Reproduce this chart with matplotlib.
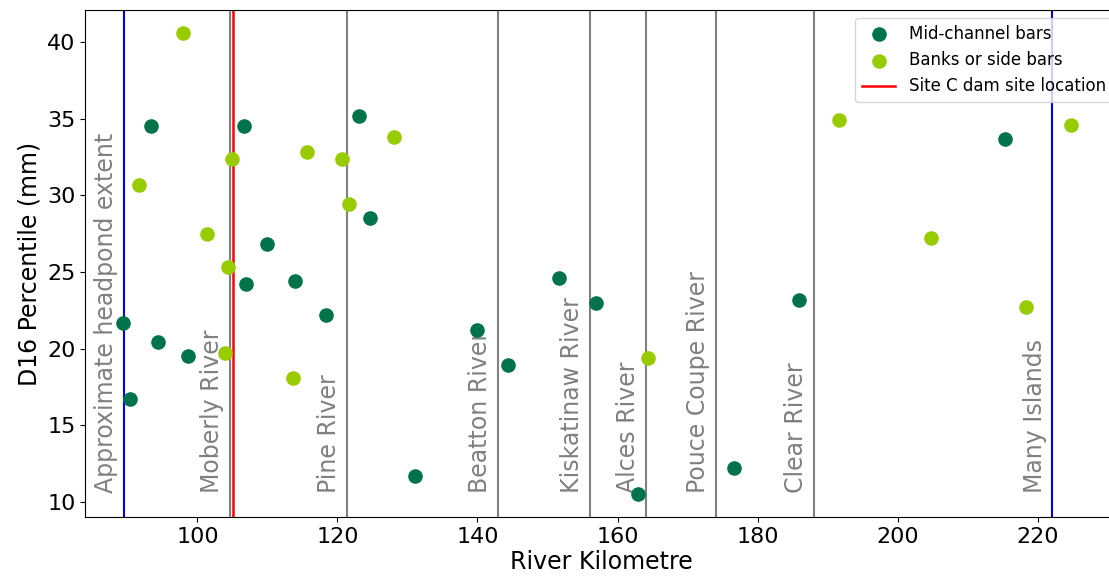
import matplotlib
matplotlib.use('Agg')
import matplotlib.pyplot as plt

# mid-channel bars (river km, D16 in mm)
mid_km = [89.4, 90.3, 93.4, 94.3, 98.6, 106.6, 107.0, 110.0, 114.0, 118.4,
          123.1, 124.7, 131.1, 139.9, 144.3, 151.7, 156.9, 162.9, 176.6, 185.9, 215.4]
mid_d16 = [21.7, 16.7, 34.5, 20.4, 19.5, 34.5, 24.2, 26.8, 24.4, 22.2,
           35.2, 28.5, 11.7, 21.2, 18.9, 24.6, 23.0, 10.5, 12.2, 23.2, 33.7]

# banks or side bars
bank_km = [91.7, 97.9, 101.4, 103.9, 104.3, 104.9, 113.6, 115.6, 120.6, 121.6,
           128.1, 164.4, 191.6, 204.7, 218.4, 224.7]
bank_d16 = [30.7, 40.6, 27.5, 19.7, 25.3, 32.4, 18.1, 32.8, 32.4, 29.4,
            33.8, 19.4, 34.9, 27.2, 22.7, 34.6]

# tributaries / landmarks along the river
trib_names = ['Moberly River', 'Pine River', 'Beatton River', 'Kiskatinaw River',
              'Alces River', 'Pouce Coupe River', 'Clear River']
trib_km = [104.6, 121.3, 142.9, 156.0, 164.0, 174.0, 188.0]
extent_names = ['Approximate headpond extent', 'Many Islands']
extent_km = [89.5, 222.1]
dam_km = 105.1

fig = plt.figure(figsize=(11.09, 5.76), dpi=100)
ax = fig.add_axes([0.077, 0.102, 0.93, 0.881])

for name, km in zip(trib_names, trib_km):
    ax.axvline(km, color='grey', linewidth=1.5)
    ax.text(km - 0.8, 10.6, name, rotation=90, ha='right', va='bottom',
            fontsize=17, color='grey')
for name, km in zip(extent_names, extent_km):
    ax.axvline(km, color='blue', linewidth=1.5)
    ax.text(km - 0.8, 10.6, name, rotation=90, ha='right', va='bottom',
            fontsize=17, color='grey')
ax.axvline(dam_km, color='red', linewidth=1.8, label='Site C dam site location')

ax.scatter(mid_km, mid_d16, color='#00734a', s=90, zorder=3, label='Mid-channel bars')
ax.scatter(bank_km, bank_d16, color='#99cc00', s=90, zorder=3, label='Banks or side bars')

ax.set_xlim(84, 231.3)
ax.set_ylim(9.0, 42.1)
ax.set_xticks([100, 120, 140, 160, 180, 200, 220])
ax.set_yticks([10, 15, 20, 25, 30, 35, 40])
ax.tick_params(labelsize=16)
ax.set_xlabel('River Kilometre', fontsize=17, labelpad=2)
ax.set_ylabel('D16 Percentile (mm)', fontsize=17)

handles, labels = ax.get_legend_handles_labels()
order = [1, 2, 0]
ax.legend([handles[i] for i in order], [labels[i] for i in order],
          loc='upper right', bbox_to_anchor=(1.004, 1.0), fontsize=12)

fig.savefig('out.png', dpi=100)
